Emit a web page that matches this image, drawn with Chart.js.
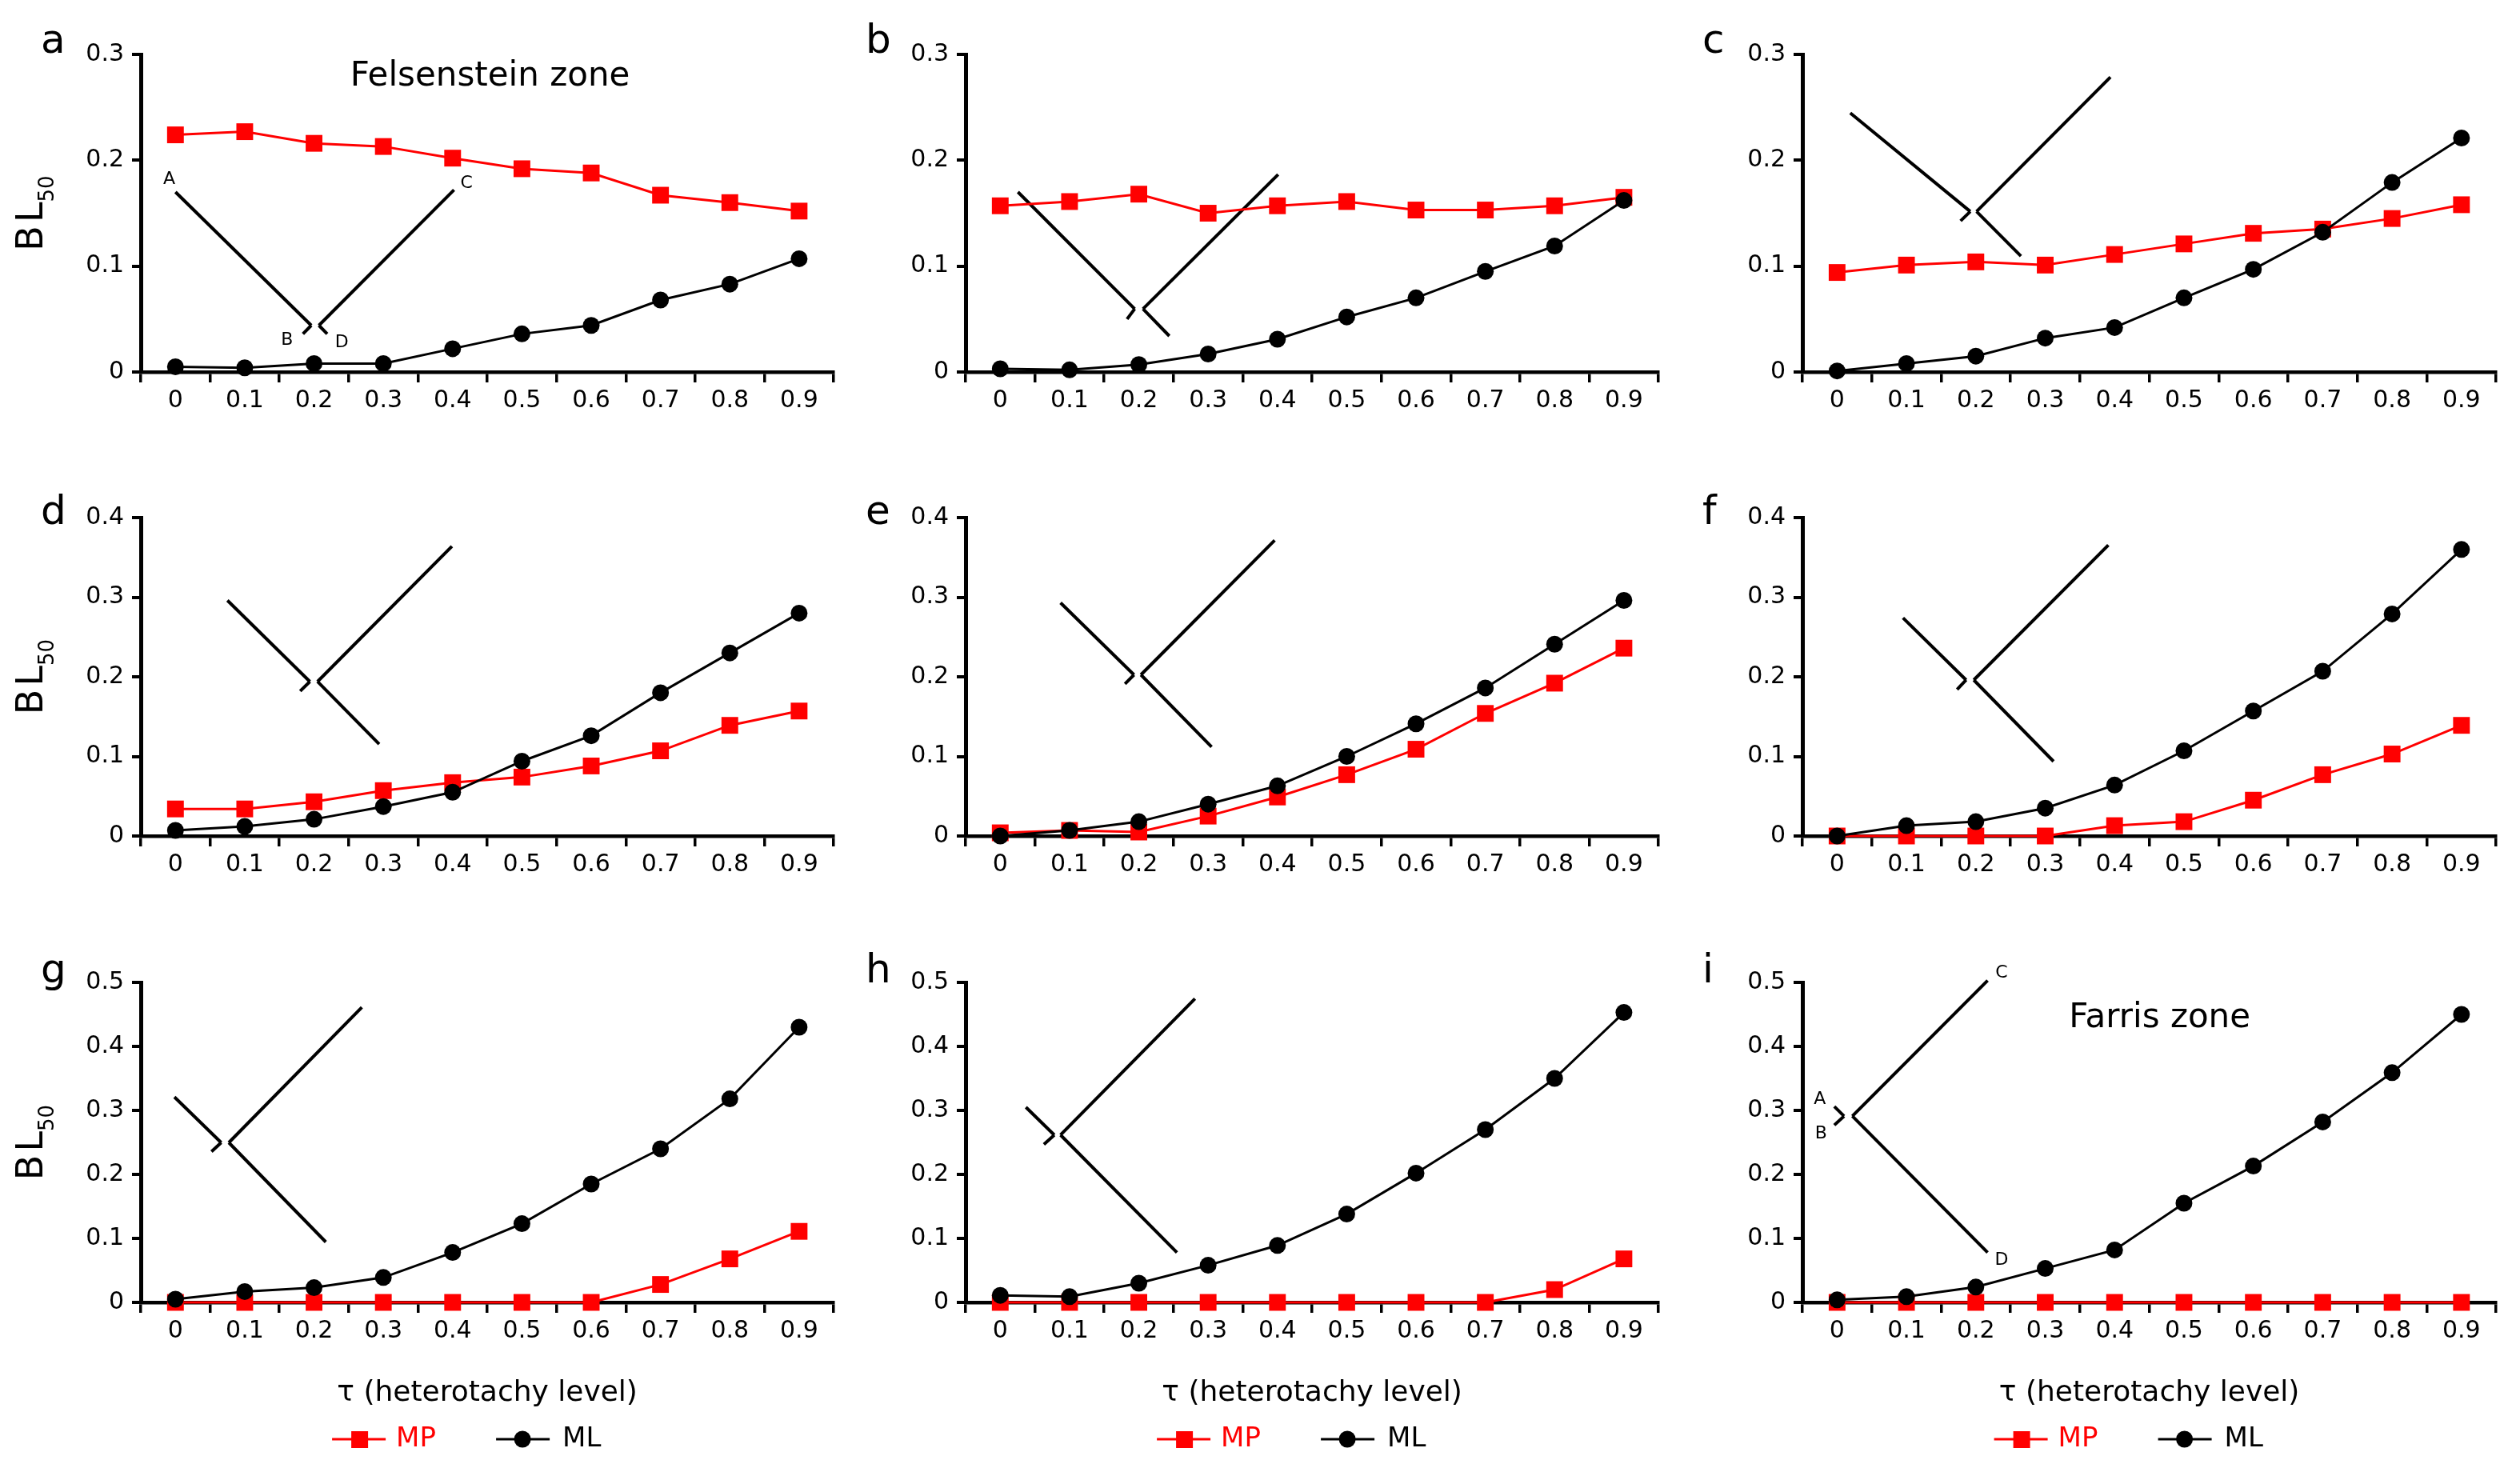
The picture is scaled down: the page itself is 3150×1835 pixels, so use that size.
<!DOCTYPE html>
<html><head><meta charset="utf-8">
<script src="https://cdn.jsdelivr.net/npm/chart.js@4.4.1/dist/chart.umd.min.js"></script>
<style>
html,body{margin:0;padding:0;background:#fff;width:3150px;height:1835px;overflow:hidden;}
canvas{position:absolute;}
</style></head><body>
<script>
// ---------- data ----------
const tauLabels = ['0','0.1','0.2','0.3','0.4','0.5','0.6','0.7','0.8','0.9'];
const seriesNames = ['MP','ML'];
const panelLetters = ['a','b','c','d','e','f','g','h','i'];
const yMaxByRow = [0.3, 0.4, 0.5];

const mpA = [0.224,0.227,0.216,0.213,0.202,0.192,0.188,0.167,0.160,0.152];
const mlA = [0.005,0.004,0.008,0.008,0.022,0.036,0.044,0.068,0.083,0.107];
const mpB = [0.157,0.161,0.168,0.150,0.157,0.161,0.153,0.153,0.157,0.165];
const mlB = [0.003,0.002,0.007,0.017,0.031,0.052,0.070,0.095,0.119,0.162];
const mpC = [0.094,0.101,0.104,0.101,0.111,0.121,0.131,0.135,0.145,0.158];
const mlC = [0.001,0.008,0.015,0.032,0.042,0.070,0.097,0.132,0.179,0.221];
const mpD = [0.034,0.034,0.043,0.057,0.067,0.074,0.088,0.107,0.139,0.157];
const mlD = [0.007,0.012,0.021,0.037,0.055,0.094,0.126,0.180,0.230,0.280];
const mpE = [0.004,0.007,0.005,0.025,0.049,0.077,0.109,0.154,0.192,0.236];
const mlE = [0.000,0.007,0.018,0.040,0.063,0.100,0.141,0.186,0.241,0.296];
const mpF = [0,0,0,0,0.013,0.018,0.045,0.077,0.103,0.139];
const mlF = [0.000,0.013,0.018,0.035,0.064,0.107,0.157,0.207,0.279,0.360];
const mpG = [0,0,0,0,0,0,0,0.028,0.068,0.111];
const mlG = [0.005,0.017,0.023,0.039,0.078,0.123,0.185,0.240,0.318,0.430];
const mpH = [0,0,0,0,0,0,0,0,0.020,0.068];
const mlH = [0.011,0.009,0.030,0.058,0.089,0.138,0.202,0.270,0.350,0.453];
const mpI = [0,0,0,0,0,0,0,0,0,0];
const mlI = [0.004,0.009,0.024,0.053,0.082,0.155,0.213,0.282,0.359,0.450];

const mpSeries = [mpA,mpB,mpC,mpD,mpE,mpF,mpG,mpH,mpI];
const mlSeries = [mlA,mlB,mlC,mlD,mlE,mlF,mlG,mlH,mlI];

// ---------- decoration (tree sketches, in category-index / value units) ----------
const trees = [
  {seg:[[0.00,0.170,1.96,0.044],[1.96,0.044,1.84,0.036],[2.07,0.044,4.02,0.172],[2.07,0.044,2.19,0.036]],
   lab:[['A',-0.09,0.182],['B',1.61,0.030],['C',4.20,0.178],['D',2.40,0.028]], zone:['Felsenstein zone',4.54,0.279]},
  {seg:[[0.255,0.170,1.94,0.0596],[1.94,0.0596,1.83,0.050],[2.06,0.0596,4.01,0.1865],[2.06,0.0596,2.44,0.034]]},
  {seg:[[0.19,0.2447,1.92,0.1516],[1.92,0.1516,1.78,0.1427],[2.01,0.1516,3.94,0.2785],[2.01,0.1516,2.65,0.1095]]},
  {seg:[[0.75,0.296,1.94,0.194],[1.94,0.194,1.80,0.182],[2.05,0.194,3.99,0.364],[2.05,0.194,2.94,0.1155]]},
  {seg:[[0.87,0.293,1.93,0.2025],[1.93,0.2025,1.80,0.191],[2.03,0.2025,3.96,0.3715],[2.03,0.2025,3.05,0.112]]},
  {seg:[[0.95,0.274,1.86,0.196],[1.86,0.196,1.73,0.184],[1.97,0.196,3.91,0.3655],[1.97,0.196,3.12,0.0937]]},
  {seg:[[-0.015,0.321,0.66,0.2497],[0.66,0.2497,0.52,0.2357],[0.77,0.2497,2.69,0.461],[0.77,0.2497,2.17,0.0944]]},
  {seg:[[0.37,0.305,0.78,0.2616],[0.78,0.2616,0.63,0.247],[0.87,0.2616,2.81,0.4746],[0.87,0.2616,2.55,0.078]]},
  {seg:[[-0.04,0.306,0.10,0.291],[0.10,0.291,-0.04,0.277],[0.22,0.291,2.17,0.503],[0.22,0.291,2.17,0.078]],
   lab:[['A',-0.25,0.317],['B',-0.23,0.263],['C',2.37,0.515],['D',2.37,0.066]], zone:['Farris zone',4.65,0.444]}
];

// ---------- layout ----------
const FONT = "'DejaVu Sans', 'Liberation Sans', Arial, sans-serif";
const RED = '#ff0000';
const rowsPx = [{t:68,b:465},{t:647,b:1045},{t:1228,b:1628}];
const colsPx = [{l:176,r:1045},{l:1207,r:2076},{l:2253,r:3123}];
const letterDy = [-2, 8, 0];
const LEFTW = 176, TOPP = 60, RIGHTP = 12;

Chart.defaults.font.family = FONT;

const decor = {
  id: 'decor',
  beforeDatasetsDraw(chart, args, o) {
    const ctx = chart.ctx, xs = chart.scales.x, ys = chart.scales.y;
    const tr = o.tree;
    ctx.save();
    ctx.strokeStyle = '#000'; ctx.lineWidth = 4; ctx.lineCap = 'butt';
    tr.seg.forEach(s => {
      ctx.beginPath();
      ctx.moveTo(xs.getPixelForValue(s[0]), ys.getPixelForValue(s[1]));
      ctx.lineTo(xs.getPixelForValue(s[2]), ys.getPixelForValue(s[3]));
      ctx.stroke();
    });
    ctx.fillStyle = '#000'; ctx.textAlign = 'center'; ctx.textBaseline = 'middle';
    if (tr.lab) {
      ctx.font = '22px ' + FONT;
      tr.lab.forEach(l => ctx.fillText(l[0], xs.getPixelForValue(l[1]), ys.getPixelForValue(l[2])));
    }
    if (tr.zone) {
      ctx.font = '42px ' + FONT;
      ctx.fillText(tr.zone[0], xs.getPixelForValue(tr.zone[1]), ys.getPixelForValue(tr.zone[2]));
    }
    ctx.restore();
  },
  afterDraw(chart, args, o) {
    const ctx = chart.ctx, ca = chart.chartArea;
    ctx.save();
    // panel letter
    ctx.fillStyle = '#000'; ctx.textAlign = 'left'; ctx.textBaseline = 'alphabetic';
    ctx.font = '50px ' + FONT;
    ctx.fillText(o.letter, ca.left - 125, ca.top + o.letterDy);
    // y title BL50 (first column only)
    if (o.yTitle) {
      const cy = (ca.top + ca.bottom) / 2;
      ctx.save();
      ctx.translate(ca.left - 123, cy);
      ctx.rotate(-Math.PI / 2);
      ctx.font = '46px ' + FONT;
      const wB = ctx.measureText('B').width, wL = ctx.measureText('L').width;
      ctx.font = '26px ' + FONT;
      const wS = ctx.measureText('50').width;
      const gap = 4;
      const tot = wB + gap + wL + wS;
      const x0 = -tot / 2;
      ctx.textAlign = 'left';
      ctx.font = '46px ' + FONT;
      ctx.fillText('B', x0, 0);
      ctx.fillText('L', x0 + wB + gap, 0);
      ctx.font = '26px ' + FONT;
      ctx.fillText('50', x0 + wB + gap + wL, 14);
      ctx.restore();
    }
    // legend (bottom row)
    if (o.legend) {
      const cx = (ca.left + ca.right) / 2 - 4;
      const ly = ca.bottom + 171;
      ctx.lineWidth = 3;
      ctx.strokeStyle = RED; ctx.fillStyle = RED;
      ctx.beginPath(); ctx.moveTo(cx - 190, ly); ctx.lineTo(cx - 123, ly); ctx.stroke();
      ctx.fillRect(cx - 166, ly - 10, 21, 21);
      ctx.font = '34px ' + FONT; ctx.textBaseline = 'middle'; ctx.textAlign = 'left';
      ctx.fillText(seriesNames[0], cx - 110, ly);
      ctx.strokeStyle = '#000'; ctx.fillStyle = '#000';
      ctx.beginPath(); ctx.moveTo(cx + 15, ly); ctx.lineTo(cx + 82, ly); ctx.stroke();
      ctx.beginPath(); ctx.arc(cx + 48, ly, 10.5, 0, Math.PI * 2); ctx.fill();
      ctx.fillText(seriesNames[1], cx + 98, ly);
    }
    ctx.restore();
  }
};

for (let p = 0; p < 9; p++) {
  const r = Math.floor(p / 3), c = p % 3;
  const rp = rowsPx[r], cp = colsPx[c];
  const plotW = cp.r - cp.l, plotH = rp.b - rp.t;
  const last = (r === 2);
  const xH = last ? 135 : 60;
  const padB = last ? 65 : 10;
  const W = LEFTW + plotW + RIGHTP;
  const H = TOPP + plotH + xH + padB;
  const cv = document.createElement('canvas');
  cv.width = W; cv.height = H;
  cv.style.left = (cp.l - LEFTW) + 'px';
  cv.style.top = (rp.t - TOPP) + 'px';
  cv.style.width = W + 'px'; cv.style.height = H + 'px';
  document.body.appendChild(cv);

  new Chart(cv, {
    type: 'line',
    data: {
      labels: tauLabels,
      datasets: [
        {label: seriesNames[0], data: mpSeries[p], borderColor: RED, backgroundColor: RED,
         pointStyle: 'rect', pointRadius: 14.8, pointHoverRadius: 14.8, pointBorderWidth: 0,
         borderWidth: 3, order: 1, clip: false},
        {label: seriesNames[1], data: mlSeries[p], borderColor: '#000', backgroundColor: '#000',
         pointStyle: 'circle', pointRadius: 10.5, pointHoverRadius: 10.5, pointBorderWidth: 0,
         borderWidth: 3, order: 0, clip: false}
      ]
    },
    options: {
      responsive: false, animation: false, devicePixelRatio: 1,
      events: [],
      layout: {padding: {left: 0, top: TOPP, right: RIGHTP, bottom: padB}},
      plugins: {
        legend: {display: false}, tooltip: {enabled: false},
        decor: {tree: trees[p], letter: panelLetters[p], letterDy: letterDy[r],
                yTitle: c === 0, legend: last}
      },
      scales: {
        x: {
          type: 'category', offset: true,
          grid: {offset: true, drawOnChartArea: false, drawTicks: true, tickLength: 13, lineWidth: 3.5, color: '#000'},
          border: {display: true, width: 4.5, color: '#000'},
          ticks: {color: '#000', font: {size: 30}, padding: 5, maxRotation: 0, autoSkip: false},
          title: last ? {display: true, text: 'τ (heterotachy level)', color: '#000',
                         font: {size: 36}, padding: {top: 0, bottom: 0}} : {display: false},
          afterFit(s) { s.height = xH; }
        },
        y: {
          min: 0, max: yMaxByRow[r],
          ticks: {stepSize: 0.1, color: '#000', font: {size: 30}, padding: 10,
                  callback: v => (Math.abs(v) < 1e-9 ? '0' : v.toFixed(1))},
          grid: {drawOnChartArea: false, drawTicks: true, tickLength: 11, lineWidth: 4, color: '#000'},
          border: {display: true, width: 5, color: '#000'},
          afterFit(s) { s.width = LEFTW; }
        }
      }
    },
    plugins: [decor]
  });
}
</script>
</body></html>
